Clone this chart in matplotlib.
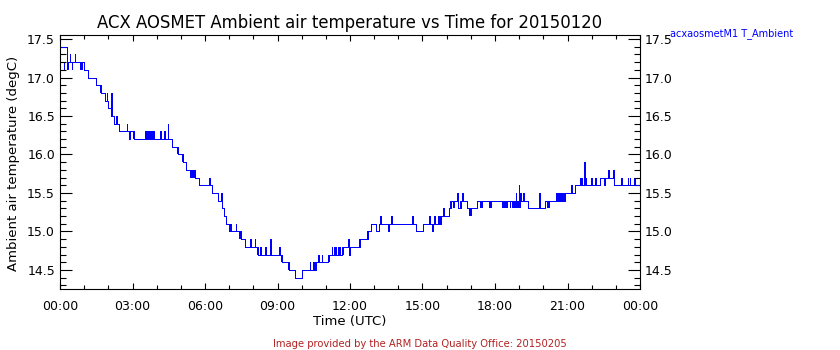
import numpy as np
import matplotlib
matplotlib.use("Agg")
import matplotlib.pyplot as plt
from matplotlib.ticker import MultipleLocator, FuncFormatter

# Ambient temperature staircase: value holds from each time (hours UTC) onward
step_t = [0.00, 0.30, 0.99, 1.16, 1.50, 1.71, 1.85, 1.99, 2.12, 2.23, 2.44, 3.06,
          4.65, 4.88, 5.10, 5.23, 5.57, 5.74, 6.27, 6.55, 6.72, 6.80, 6.88, 7.01,
          7.50, 7.65, 8.20, 9.20, 9.49, 9.71, 10.03, 10.58, 11.10, 11.50, 11.57,
          11.65, 12.40, 12.76, 12.85, 13.07, 13.21, 14.73, 15.03, 15.75, 16.11,
          16.20, 16.48, 16.60, 16.83, 17.24, 19.36, 20.05, 20.88, 21.29, 22.36,
          22.52, 22.56, 22.92, 24.00]
step_v = [17.4, 17.2, 17.1, 17.0, 16.9, 16.8, 16.7, 16.6, 16.5, 16.4, 16.3, 16.2,
          16.1, 16.0, 15.9, 15.8, 15.7, 15.6, 15.5, 15.4, 15.3, 15.2, 15.1, 15.0,
          14.9, 14.8, 14.7, 14.6, 14.5, 14.4, 14.5, 14.6, 14.7, 14.8, 14.7,
          14.8, 14.9, 15.0, 15.1, 15.0, 15.1, 15.0, 15.1, 15.2, 15.3,
          15.4, 15.3, 15.4, 15.3, 15.4, 15.3, 15.4, 15.5, 15.6, 15.7,
          15.6, 15.7, 15.6, 15.6]

# single-sample excursions (time, reading)
spike_t = [0.40, 0.61, 1.93, 2.13, 2.33, 2.77, 2.87, 3.50, 4.15, 4.32, 4.45,
           6.18, 6.67, 7.27, 7.87, 8.07, 8.29, 8.50, 8.70, 9.07, 10.34, 10.48,
           10.69, 11.55, 11.93, 11.97, 13.58, 14.58, 15.28, 15.40, 15.49, 15.86,
           16.44, 16.65, 18.85, 18.99, 19.05, 19.83, 21.16, 21.69, 21.98, 22.15,
           22.66, 22.71, 22.89, 23.22, 23.50, 23.57]
spike_v = [17.3, 17.3, 16.8, 16.8, 16.5, 16.4, 16.2, 16.3, 16.3, 16.3, 16.4,
           15.7, 15.5, 15.1, 14.9, 14.9, 14.8, 14.8, 14.9, 14.8, 14.6, 14.6,
           14.7, 14.7, 14.9, 14.7, 15.0, 15.2, 15.2, 15.0, 15.2, 15.3,
           15.5, 15.5, 15.5, 15.6, 15.5, 15.5, 15.6, 15.9, 15.7, 15.7,
           15.8, 15.8, 15.8, 15.7, 15.7, 15.7]

# stretches where the reading flips between two adjacent levels every sample
flick_t0 = [0.17, 0.30, 0.50, 0.65, 0.83, 1.02, 1.67, 2.14, 3.02, 3.57, 4.84, 5.05,
            5.39, 7.01, 7.42, 8.16, 9.14, 9.45, 10.55, 10.83, 11.07, 11.27, 11.35,
            11.69, 12.38, 12.71, 13.24, 13.69, 15.65, 16.14, 16.25, 16.55, 16.92,
            17.38, 17.75, 18.29, 18.60, 18.70, 19.16, 20.15, 20.53, 21.53, 21.75,
            23.74]
flick_t1 = [0.22, 0.36, 0.55, 0.68, 0.95, 1.05, 1.71, 2.20, 3.12, 3.94, 4.91, 5.13,
            5.57, 7.10, 7.52, 8.25, 9.24, 9.52, 10.62, 10.88, 11.17, 11.31, 11.48,
            11.76, 12.45, 12.80, 13.31, 13.76, 15.79, 16.20, 16.33, 16.60, 17.03,
            17.49, 17.87, 18.54, 18.67, 19.09, 19.23, 20.27, 20.88, 21.64, 21.80,
            23.84]
flick_lo = [17.1, 17.1, 17.1, 17.1, 17.1, 17.0, 16.8, 16.5, 16.2, 16.2, 16.0, 15.9,
            15.7, 15.0, 14.9, 14.7, 14.6, 14.5, 14.5, 14.6, 14.6, 14.7, 14.7,
            14.7, 14.8, 14.9, 15.1, 15.1, 15.1, 15.3, 15.3, 15.3, 15.2,
            15.3, 15.3, 15.3, 15.3, 15.3, 15.4, 15.3, 15.4, 15.6, 15.6,
            15.6]

# merge spikes into the staircase as one-minute pulses
step_t_arr = np.array(step_t)
step_v_arr = np.array(step_v)
sp_t = np.array(spike_t)
sp_back = sp_t + 1.0 / 60.0
base_back = step_v_arr[np.searchsorted(step_t_arr, sp_back, side="right") - 1]
t_all = np.concatenate([step_t_arr, sp_t, sp_back])
v_all = np.concatenate([step_v_arr, np.array(spike_v), base_back])
order = np.argsort(t_all, kind="stable")
t_all, v_all = t_all[order], v_all[order]

W, H = 840, 350
fig = plt.figure(figsize=(W / 100, H / 100), dpi=100)
ax = fig.add_axes([60 / W, 1 - 289 / H, 580 / W, 254 / H])

blue = "#0000ff"
ax.plot(t_all, v_all, drawstyle="steps-post", color=blue, lw=0.5,
        antialiased=False)
for t0, t1, lo in zip(flick_t0, flick_t1, flick_lo):
    ax.fill_between([t0, t1], [lo, lo], [lo + 0.1, lo + 0.1], color=blue,
                    lw=0, antialiased=False)

ax.set_xlim(0, 24)
ax.set_ylim(14.253, 17.552)

ax.xaxis.set_major_locator(MultipleLocator(3))
ax.xaxis.set_minor_locator(MultipleLocator(1))
ax.xaxis.set_major_formatter(FuncFormatter(lambda v, p: "%02d:00" % (int(round(v)) % 24)))
ax.yaxis.set_major_locator(MultipleLocator(0.5))
ax.yaxis.set_minor_locator(MultipleLocator(0.1))
ax.yaxis.set_major_formatter(FuncFormatter(lambda v, p: "%.1f" % v))

for s in ax.spines.values():
    s.set_linewidth(0.8)
ax.tick_params(axis="both", which="both", direction="in", width=0.8,
               top=True, right=True, labelright=True, colors="black")
ax.tick_params(axis="x", which="major", length=4, pad=8.2, labelsize=9)
ax.tick_params(axis="x", which="minor", length=2.7)
ax.tick_params(axis="y", which="major", length=8.6, pad=3.6, labelsize=9)
ax.tick_params(axis="y", which="minor", length=4.3)

fig.text(350 / W, 1 - 28.5 / H,
         "ACX AOSMET Ambient air temperature vs Time for 20150120",
         ha="center", va="baseline", fontsize=11.9)
fig.text(14 / W, 1 - 163 / H, "Ambient air temperature (degC)",
         rotation=90, ha="center", va="center", fontsize=9.5)
fig.text(350 / W, 1 - 325 / H, "Time (UTC)", ha="center", va="baseline",
         fontsize=9.5)
fig.text(670 / W, 1 - 36 / H, "acxaosmetM1 T_Ambient", ha="left",
         va="baseline", fontsize=7, color=blue)
fig.text(420 / W, 1 - 347 / H,
         "Image provided by the ARM Data Quality Office: 20150205",
         ha="center", va="baseline", fontsize=7.2, color="#b22222")

fig.savefig("out.png", dpi=100)
